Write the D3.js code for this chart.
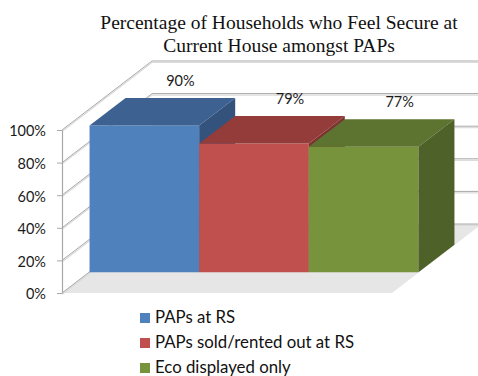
<!DOCTYPE html>
<html>
<head>
<meta charset="utf-8">
<script src="https://cdn.jsdelivr.net/npm/d3@7/dist/d3.min.js"></script>
<style>
  html, body { margin: 0; padding: 0; background: #fff; }
  svg { display: block; }
</style>
</head>
<body>
<svg id="chart" width="478" height="376"></svg>
<script>
// Series and values
const seriesNames = ["PAPs at RS", "PAPs sold/rented out at RS", "Eco displayed only"];
const values = [90, 79, 77];
const tickValues = [0, 20, 40, 60, 80, 100];
const titleLines = ["Percentage of Households who Feel Secure at", "Current House amongst PAPs"];

// Face colours per series: front, top, side
const frontColors = ["#4F81BD", "#C0504D", "#77933C"];
const topColors = ["#3D6292", "#933C3A", "#5D7430"];
const sideColors = ["#33537D", "#7E3331", "#4E6128"];

const svg = d3.select("#chart");
const W = 478, H = 376;

// Oblique 3D frame: front plane plus a depth vector toward the back wall
const frontLeft = 62, frontRight = 392;
const depth = [90, -69];
const barFront = 0.3, barBack = 0.7;

const x = d3.scaleBand().domain(seriesNames).range([frontLeft, frontRight]).paddingInner(0).paddingOuter(0.005);
const y = d3.scaleLinear().domain([0, 100]).range([293, 130]);

const proj = (px, v, z) => [px + z * depth[0], y(v) + z * depth[1]];
const poly = pts => "M" + pts.map(p => p.join(",")).join("L") + "Z";

const gridColor = "#A8A8A8";
const gridShadow = "#DCDCDC";
const sansFont = "Lato, 'Open Sans', sans-serif";

// Floor
svg.append("path")
  .attr("d", poly([proj(frontLeft, 0, 0), proj(frontRight, 0, 0), proj(frontRight, 0, 1), proj(frontLeft, 0, 1)]))
  .attr("fill", "#E6E6E6");

// Gridlines on the side wall and back wall
const grid = svg.append("g");
tickValues.forEach(t => {
  const a = proj(frontLeft, t, 0), b = proj(frontLeft, t, 1), c = [W + 20, b[1]];
  grid.append("path").attr("d", `M${a[0]},${a[1] + 1.5}L${b[0]},${b[1] + 1.5}L${c[0]},${c[1] + 1.5}`)
    .attr("fill", "none").attr("stroke", gridShadow).attr("stroke-width", 1.2);
  grid.append("path").attr("d", `M${a[0]},${a[1]}L${b[0]},${b[1]}L${c[0]},${c[1]}`)
    .attr("fill", "none").attr("stroke", gridColor).attr("stroke-width", 1);
});

// Value axis on the front edge of the side wall
const axis = d3.axisLeft(y)
  .tickValues(tickValues)
  .tickFormat(d => d + "%")
  .tickSize(5)
  .tickSizeOuter(0)
  .tickPadding(11);

const axisG = svg.append("g")
  .attr("transform", `translate(${frontLeft},0)`)
  .call(axis);
axisG.select(".domain").attr("stroke", gridColor).attr("stroke-width", 1.2);
axisG.selectAll(".tick line").attr("stroke", gridColor);
axisG.selectAll(".tick text")
  .attr("fill", "#1a1a1a")
  .attr("font-family", sansFont)
  .attr("font-size", 14.5)
  .attr("dy", "0.4em");

// Bars, drawn left to right so each one overlaps its neighbour's side face
const bars = svg.append("g");
seriesNames.forEach((name, i) => {
  const v = values[i];
  const x0 = x(name), x1 = x(name) + x.bandwidth();
  const g = bars.append("g");
  // front face
  g.append("path")
    .attr("d", poly([proj(x0, 0, barFront), proj(x1, 0, barFront), proj(x1, v, barFront), proj(x0, v, barFront)]))
    .attr("fill", frontColors[i]);
  // top face
  g.append("path")
    .attr("d", poly([proj(x0, v, barFront), proj(x1, v, barFront), proj(x1, v, barBack), proj(x0, v, barBack)]))
    .attr("fill", topColors[i]);
  // right side face
  g.append("path")
    .attr("d", poly([proj(x1, 0, barFront), proj(x1, 0, barBack), proj(x1, v, barBack), proj(x1, v, barFront)]))
    .attr("fill", sideColors[i]);
});

// Value labels above the back edge of each bar top
svg.append("g").selectAll("text")
  .data(seriesNames)
  .join("text")
  .attr("x", (d, i) => proj(x(d) + x.bandwidth() / 2, values[i], barBack)[0])
  .attr("y", (d, i) => proj(x(d), values[i], barBack)[1] - 12)
  .attr("text-anchor", "middle")
  .attr("font-family", sansFont)
  .attr("font-size", 14.5)
  .attr("fill", "#1a1a1a")
  .text((d, i) => values[i] + "%");

// Title
svg.append("g").selectAll("text")
  .data(titleLines)
  .join("text")
  .attr("x", 279)
  .attr("y", (d, i) => 29 + i * 23)
  .attr("text-anchor", "middle")
  .attr("font-family", "'Liberation Serif', 'DejaVu Serif', serif")
  .attr("font-size", 19.5)
  .attr("fill", "#111")
  .text(d => d);

// Legend
const legend = svg.append("g").attr("transform", "translate(140,317)");
const item = legend.selectAll("g")
  .data(seriesNames)
  .join("g")
  .attr("transform", (d, i) => `translate(0,${i * 25})`);
item.append("rect")
  .attr("x", 0).attr("y", -4)
  .attr("width", 10).attr("height", 10)
  .attr("fill", (d, i) => frontColors[i]);
item.append("text")
  .attr("x", 15).attr("y", 6)
  .attr("font-family", sansFont)
  .attr("font-size", 16.8)
  .attr("fill", "#111")
  .text(d => d);
</script>
</body>
</html>
